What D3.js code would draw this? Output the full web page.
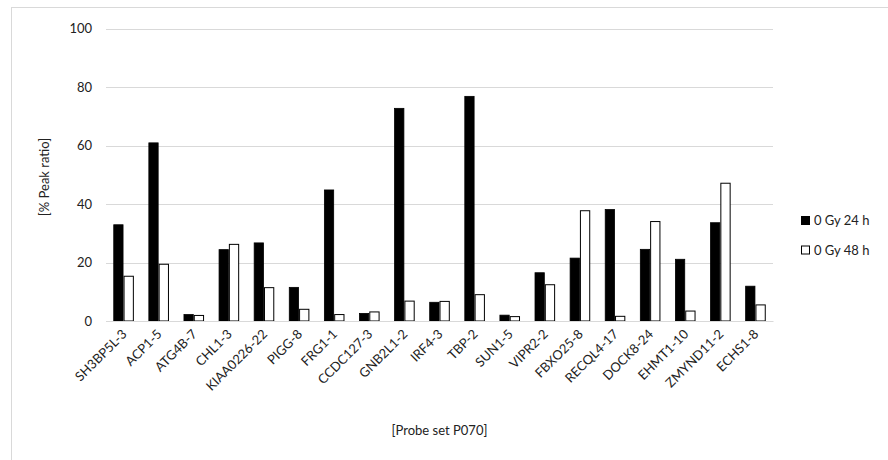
<!DOCTYPE html>
<html><head><meta charset="utf-8">
<script src="https://cdn.jsdelivr.net/npm/d3@7"></script>
<style>body{margin:0;background:#fff}svg{display:block}text{font-family:Lato,"Open Sans",sans-serif;fill:#222}</style>
</head><body><div id="c"></div>
<script>
const categories = ["SH3BP5L-3","ACP1-5","ATG4B-7","CHL1-3","KIAA0226-22","PIGG-8","FRG1-1","CCDC127-3","GNB2L1-2","IRF4-3","TBP-2","SUN1-5","VIPR2-2","FBXO25-8","RECQL4-17","DOCK8-24","EHMT1-10","ZMYND11-2","ECHS1-8"];
const series24 = [32.9,60.9,2.2,24.4,26.7,11.5,44.8,2.6,72.7,6.4,76.8,2.0,16.5,21.5,38.1,24.5,21.1,33.6,11.9];
const series48 = [15.3,19.4,1.9,26.2,11.4,4.0,2.2,3.1,6.8,6.7,9.0,1.5,12.4,37.7,1.6,34.0,3.4,47.1,5.5];
const seriesNames = ["0 Gy 24 h","0 Gy 48 h"];
const yTicks = [0,20,40,60,80,100];

const W=888,H=460;
const svg=d3.select("#c").append("svg").attr("width",W).attr("height",H);
svg.append("rect").attr("x",11.5).attr("y",7.5).attr("width",W).attr("height",H).attr("fill","none").attr("stroke","#d9d9d9");

const x0=d3.scaleBand().domain(categories).range([106,773]).paddingInner(0).paddingOuter(0);
const y=d3.scaleLinear().domain([0,100]).range([321,28.5]);
const bw = x0.bandwidth()*0.265;

// grid
svg.append("g").selectAll("line").data(yTicks).join("line")
  .attr("x1",106).attr("x2",773).attr("y1",d=>Math.round(y(d))+0.5).attr("y2",d=>Math.round(y(d))+0.5)
  .attr("stroke","#d9d9d9").attr("stroke-width",1);

// y axis labels
const ya=svg.append("g").attr("transform","translate(92,0)").call(d3.axisLeft(y).tickValues(yTicks).tickSize(0).tickPadding(0));
ya.select(".domain").remove();
ya.selectAll("text").style("font-size","13px").attr("fill","#222").style("font-family","Lato,'Open Sans',sans-serif");

// bars
const g=svg.append("g");
categories.forEach((c,i)=>{
  const cx=x0(c)+x0.bandwidth()/2;
  g.append("rect").attr("x",cx-bw-0.5).attr("y",y(series24[i])).attr("width",bw).attr("height",y(0)-y(series24[i])).attr("fill","#000").attr("stroke","#000").attr("stroke-width",0.8);
  g.append("rect").attr("x",cx+0.5).attr("y",y(series48[i])).attr("width",bw).attr("height",y(0)-y(series48[i])).attr("fill","#fff").attr("stroke","#000").attr("stroke-width",1);
});

// x axis
const xa=svg.append("g").attr("transform","translate(0,321)").call(d3.axisBottom(x0).tickSize(0).tickPadding(0));
xa.select(".domain").attr("stroke","#d9d9d9");
xa.selectAll("text").style("font-size","13px").attr("fill","#222").style("font-family","Lato,'Open Sans',sans-serif")
  .attr("text-anchor","end").attr("dy","0").attr("y",0)
  .attr("transform","translate(4,14) rotate(-45)");

// axis titles
svg.append("text").attr("x",439.5).attr("y",435).attr("text-anchor","middle").style("font-size","13px").text("[Probe set P070]");
svg.append("text").attr("transform","translate(49,177) rotate(-90)").attr("text-anchor","middle").style("font-size","13px").text("[% Peak ratio]");

// legend
const lg=svg.append("g");
seriesNames.forEach((n,i)=>{
  const yy=216+i*29.5;
  lg.append("rect").attr("x",801.5).attr("y",yy+0.5).attr("width",8).attr("height",8).attr("fill",i===0?"#000":"#fff").attr("stroke","#000").attr("stroke-width",1);
  lg.append("text").attr("x",814).attr("y",yy+9).style("font-size","13px").text(n);
});
</script></body></html>
